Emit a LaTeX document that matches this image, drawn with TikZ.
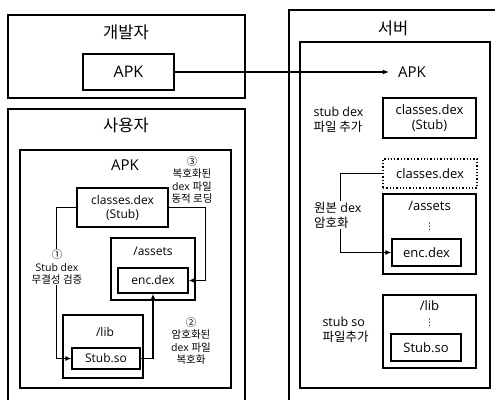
\documentclass[tikz,border=0pt]{standalone}
\usepackage{fontspec}
\setmainfont{Open Sans}
\newfontfamily\krfont{Noto Sans CJK KR}
\newfontfamily\symfont{DejaVu Sans}
\newcommand{\kr}[1]{{\krfont #1}}
\usetikzlibrary{arrows.meta, positioning, calc}

\begin{document}
\begin{tikzpicture}[x=1pt, y=-1pt,
    every node/.style={font=\fontsize{12}{14}\selectfont},
    frame/.style={draw, line width=1.3pt, rectangle, inner sep=0pt},
    box/.style={draw, line width=1.3pt, rectangle, align=center, inner sep=0pt},
    sbox/.style={box, font=\fontsize{13}{15}\selectfont},
    title/.style={font=\fontsize{16.5}{18}\selectfont\krfont},
    note/.style={align=center, font=\fontsize{10.5}{12.5}\selectfont},
    snote/.style={align=left, anchor=west, font=\fontsize{12.5}{15}\selectfont},
    dots/.style={inner sep=0pt, font=\fontsize{9}{9}\selectfont\symfont},
    arrow/.style={-{Latex[length=6pt,width=5pt]}, line width=1.3pt}
]
\useasboundingbox (0,0) rectangle (495,399);
\clip (0,0) rectangle (495,399);

% Developer
\node[frame, minimum width=237pt, minimum height=83pt] (dev) at (126.5,56.5) {};
\node[title] (devtitle) at (126,32) {개발자};
\node[box, minimum width=91pt, minimum height=36pt, font=\fontsize{16}{18}\selectfont] (devapk) at (128.5,72) {APK};

% User
\node[frame, minimum width=237pt, minimum height=300pt] (user) at (126.5,259) {};
\node[title] (usertitle) at (126,125) {사용자};
\node[frame, minimum width=211pt, minimum height=238pt] (uapk) at (125.5,269) {};
\node[font=\fontsize{15}{18}\selectfont] (uapklabel) at (125,165) {APK};
\node[box, minimum width=91pt, minimum height=39pt] (ucls) at (122.5,207.5) {classes.dex\\(Stub)};
\node[frame, minimum width=84pt, minimum height=62pt] (uassets) at (153,269) {};
\node[inner sep=0pt] (uassetslabel) at (153,251) {/assets};
\node[box, minimum width=70pt, minimum height=25pt] (uenc) at (153,280.5) {enc.dex};
\node[frame, minimum width=80pt, minimum height=63pt] (ulib) at (103,346.5) {};
\node[inner sep=0pt] (uliblabel) at (105,332) {/lib};
\node[box, minimum width=68pt, minimum height=21pt] (ustub) at (106,358.5) {Stub.so};

% User arrows
\draw[arrow] (ucls.west) -- ++(-20,0) |- (ustub.west);
\draw[arrow] (ustub.east) -| (uenc.south);
\draw[arrow] (ucls.east) -- ++(37,0) |- (uenc.east);
\node[note, fill=white, inner sep=1pt] (verify) at (57,267) {\kr{①}\\Stub dex\\\kr{무결성 검증}};
\node[note] (decrypt) at (191,341) {\kr{②}\\\kr{암호화된}\\dex \kr{파일}\\\kr{복호화}};
\node[note] (loading) at (192,180) {\kr{③}\\\kr{복호화된}\\dex \kr{파일}\\\kr{동적 로딩}};

% Server
\node[frame, minimum width=216pt, minimum height=400pt] (srv) at (397,210) {};
\node[title] (srvtitle) at (393,28) {서버};
\node[frame, minimum width=190pt, minimum height=346pt] (sin) at (395,215) {};
\node[font=\fontsize{15}{18}\selectfont, inner sep=0pt] (sapk) at (412,72) {APK};
\node[snote] (addstub) at (310,120) {stub dex\\\kr{파일 추가}};
\node[sbox, minimum width=93pt, minimum height=40pt] (scls) at (429.5,118) {classes.dex\\(Stub)};
\node[sbox, dotted, minimum width=94pt, minimum height=29pt] (sorig) at (430,173.5) {classes.dex};
\node[frame, minimum width=93pt, minimum height=80pt] (sassets) at (429.5,234) {};
\node[inner sep=0pt, font=\fontsize{13}{15}\selectfont] (sassetslabel) at (429.5,206) {/assets};
\node[dots] (sdots1) at (429.5,227) {⋮};
\node[sbox, minimum width=69pt, minimum height=27pt] (senc) at (426.5,252.5) {enc.dex};
\node[frame, minimum width=93pt, minimum height=73pt] (slib) at (429.5,331.5) {};
\node[inner sep=0pt, font=\fontsize{13}{15}\selectfont] (sliblabel) at (429.5,306) {/lib};
\node[dots] (sdots2) at (429.5,323) {⋮};
\node[sbox, minimum width=70pt, minimum height=27pt] (sstub) at (426,347.5) {Stub.so};
\node[snote] (addso) at (319,330) {stub so\\\kr{파일추가}};

% Server arrows
\draw[arrow] (devapk.east) -- ([xshift=-9pt]sapk.west);
\draw[arrow] (sorig.west) -- ++(-42,0) |- (senc.west);
\node[snote, fill=white, inner sep=1pt] (encrypt) at (313,215) {\kr{원본} dex\\\kr{암호화}};

\end{tikzpicture}
\end{document}
